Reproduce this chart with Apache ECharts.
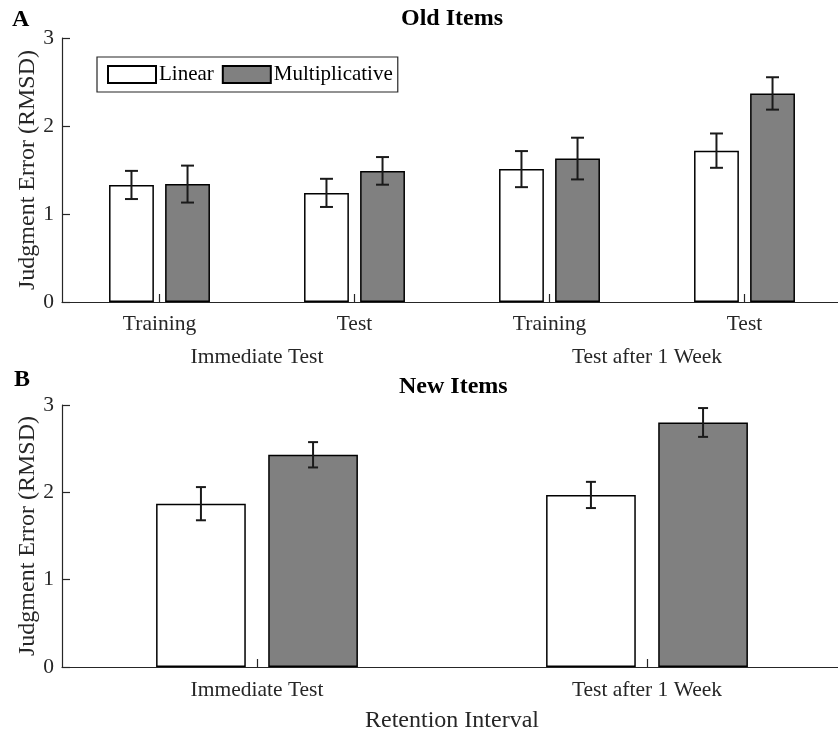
<!DOCTYPE html>
<html>
<head>
<meta charset="utf-8">
<script src="https://cdn.jsdelivr.net/npm/echarts@6/dist/echarts.min.js"></script>
<style>html,body{margin:0;padding:0;background:#fff;}#c{width:838px;height:731px;}</style>
</head>
<body>
<div id="c"></div>
<script>
const oldCats = ['Training', 'Test', 'Training', 'Test'];
const oldGroups = ['Immediate Test', 'Test after 1 Week'];
const oldLinear = [1.33, 1.24, 1.51, 1.72];
const oldLinearErr = [0.16, 0.16, 0.205, 0.195];
const oldMult = [1.34, 1.49, 1.63, 2.37];
const oldMultErr = [0.21, 0.157, 0.237, 0.184];
const newCats = ['Immediate Test', 'Test after 1 Week'];
const newLinear = [1.87, 1.97];
const newLinearErr = [0.19, 0.15];
const newMult = [2.43, 2.80];
const newMultErr = [0.145, 0.165];
const seriesNames = ['Linear', 'Multiplicative'];

const FONT = "'Liberation Serif', 'Times New Roman', serif";
const AX = '#262626';

function errRender(sign, cap) {
  return function (params, api) {
    const xi = api.value(0), m = api.value(1), e = api.value(2);
    const band = api.size([1, 0])[0];
    const off = sign * 0.14375 * band;
    const top = api.coord([xi, m + e]);
    const bot = api.coord([xi, m - e]);
    const x = top[0] + off;
    const style = { stroke: '#1a1a1a', lineWidth: 2 };
    return {
      type: 'group', children: [
        { type: 'line', shape: { x1: x, y1: top[1], x2: x, y2: bot[1] }, style: style },
        { type: 'line', shape: { x1: x - cap / 2, y1: top[1], x2: x + cap / 2, y2: top[1] }, style: style },
        { type: 'line', shape: { x1: x - cap / 2, y1: bot[1], x2: x + cap / 2, y2: bot[1] }, style: style }
      ]
    };
  };
}
function errData(vals, errs) { return vals.map((v, i) => [i, v, errs[i]]); }

function yAxis(grid) {
  return {
    type: 'value', gridIndex: grid, min: 0, max: 3, interval: 1,
    name: 'Judgment Error (RMSD)', nameLocation: 'middle', nameGap: 22, nameMoveOverlap: false,
    nameTextStyle: { fontFamily: FONT, fontSize: 24, color: AX },
    axisLine: { show: true, lineStyle: { color: AX, width: 1.2 } },
    axisTick: { show: true, inside: true, length: 8, lineStyle: { color: AX, width: 1.2 } },
    axisLabel: { fontFamily: FONT, fontSize: 21.5, color: AX, margin: 8 },
    splitLine: { show: false }
  };
}
function catAxis(grid, data, extra) {
  return Object.assign({
    type: 'category', gridIndex: grid, data: data,
    axisLine: { show: true, lineStyle: { color: AX, width: 1.2 } },
    axisTick: { show: true, inside: true, length: 8, alignWithLabel: true, lineStyle: { color: AX, width: 1.2 } },
    axisLabel: { fontFamily: FONT, fontSize: 21.5, color: AX, margin: 11 },
    splitLine: { show: false }
  }, extra || {});
}
const barBase = { type: 'bar', barWidth: '23%', barGap: '25%' };
const linStyle = { color: '#ffffff', borderColor: '#000', borderWidth: 1.5 };
const mulStyle = { color: '#808080', borderColor: '#000', borderWidth: 1.5 };
const titleStyle = { fontFamily: FONT, fontSize: 24, fontWeight: 'bold', color: '#000' };

const option = {
  animation: false,
  backgroundColor: '#fff',
  title: [
    { text: 'A', left: 12, top: 8, padding: 0, textStyle: titleStyle },
    { text: 'Old Items', left: 401, top: 7, padding: 0, textStyle: titleStyle },
    { text: 'B', left: 14, top: 368, padding: 0, textStyle: titleStyle },
    { text: 'New Items', left: 399, top: 375, padding: 0, textStyle: titleStyle }
  ],
  legend: {
    data: seriesNames, left: 97, top: 57, orient: 'horizontal',
    itemWidth: 48, itemHeight: 17, itemGap: 8,
    padding: [7, 5, 7, 10],
    backgroundColor: '#fff', borderColor: AX, borderWidth: 1.2,
    textStyle: { fontFamily: FONT, fontSize: 21, color: '#000', padding: [0, 0, 0, -2] },
    icon: 'rect'
  },
  grid: [
    { left: 62, top: 38, width: 780, height: 264, outerBoundsMode: 'none', containLabel: false },
    { left: 62, top: 405, width: 780, height: 262, outerBoundsMode: 'none', containLabel: false }
  ],
  xAxis: [
    catAxis(0, oldCats),
    catAxis(0, oldGroups, { position: 'bottom', offset: 33, axisLine: { show: false }, axisTick: { show: false } }),
    catAxis(1, newCats, {
      axisLabel: { fontFamily: FONT, fontSize: 21.5, color: AX, margin: 12 },
      name: 'Retention Interval', nameLocation: 'middle', nameGap: 42, nameMoveOverlap: false,
      nameTextStyle: { fontFamily: FONT, fontSize: 24, color: AX }
    })
  ],
  yAxis: [yAxis(0), yAxis(1)],
  series: [
    Object.assign({}, barBase, { name: 'Linear', xAxisIndex: 0, yAxisIndex: 0, data: oldLinear, itemStyle: linStyle }),
    Object.assign({}, barBase, { name: 'Multiplicative', xAxisIndex: 0, yAxisIndex: 0, data: oldMult, itemStyle: mulStyle }),
    Object.assign({}, barBase, { name: 'Linear', xAxisIndex: 2, yAxisIndex: 1, data: newLinear, itemStyle: linStyle }),
    Object.assign({}, barBase, { name: 'Multiplicative', xAxisIndex: 2, yAxisIndex: 1, data: newMult, itemStyle: mulStyle }),
    { type: 'custom', xAxisIndex: 0, yAxisIndex: 0, z: 5, renderItem: errRender(-1, 13), encode: { x: 0, y: 1 }, data: errData(oldLinear, oldLinearErr) },
    { type: 'custom', xAxisIndex: 0, yAxisIndex: 0, z: 5, renderItem: errRender(1, 13), encode: { x: 0, y: 1 }, data: errData(oldMult, oldMultErr) },
    { type: 'custom', xAxisIndex: 2, yAxisIndex: 1, z: 5, renderItem: errRender(-1, 10), encode: { x: 0, y: 1 }, data: errData(newLinear, newLinearErr) },
    { type: 'custom', xAxisIndex: 2, yAxisIndex: 1, z: 5, renderItem: errRender(1, 10), encode: { x: 0, y: 1 }, data: errData(newMult, newMultErr) }
  ]
};
const chart = echarts.init(document.getElementById('c'), null, { renderer: 'canvas' });
chart.setOption(option);
</script>
</body>
</html>
